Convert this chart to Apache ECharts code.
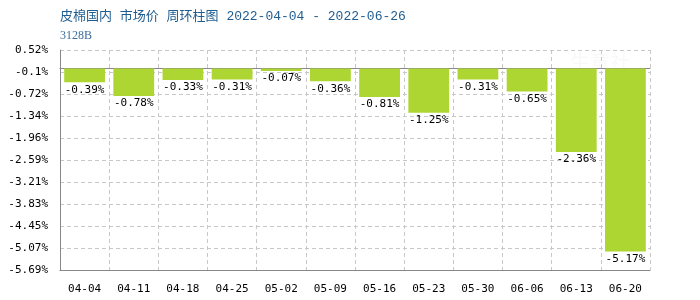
<!DOCTYPE html>
<html><head><meta charset="utf-8">
<script src="https://cdn.jsdelivr.net/npm/echarts@6/dist/echarts.min.js"></script>
<style>html,body{margin:0;padding:0;background:#fff}#c{width:700px;height:300px}</style>
</head><body><div id="c"></div>
<script>
var titleText = '皮棉国内 市场价 周环柱图 2022-04-04 - 2022-06-26';
var subtitleText = '3128B';
var categories = ['04-04','04-11','04-18','04-25','05-02','05-09','05-16','05-23','05-30','06-06','06-13','06-20'];
var values = [-0.39,-0.78,-0.33,-0.31,-0.07,-0.36,-0.81,-1.25,-0.31,-0.65,-2.36,-5.17];
var yTicks = [0.52,-0.1,-0.72,-1.34,-1.96,-2.59,-3.21,-3.83,-4.45,-5.07,-5.69];

var mono = '"DejaVu Sans Mono", "Liberation Mono", monospace';
var chart = echarts.init(document.getElementById('c'), null, {renderer:'canvas'});
chart.setOption({
  animation:false,
  backgroundColor:'#fff',
  title:{
    text:titleText, subtext:subtitleText, left:55, top:5, itemGap:7,
    textStyle:{fontSize:13, fontWeight:'normal', color:'#1f5c8f', fontFamily:'"Liberation Mono","Noto Sans CJK SC", monospace'},
    subtextStyle:{fontSize:12, color:'#3d6d9b', fontFamily:'"Liberation Serif", serif'}
  },
  graphic:[{type:'text', left:570, top:52, z:0, style:{text:'生意社', fontSize:20, fill:'rgba(200,200,200,0.12)', fontFamily:'"Noto Sans CJK SC"'}}],
  grid:{left:60, right:50, top:50, bottom:30, show:false},
  xAxis:[{
    type:'category', data:categories, position:'bottom',
    axisLine:{show:true, onZero:false, lineStyle:{color:'#888', width:1}},
    axisTick:{show:false},
    axisLabel:{color:'#000', fontSize:11, fontFamily:mono, margin:14},
    splitLine:{show:true, lineStyle:{color:'#c8c8c8', type:[4,3]}}
  },{
    type:'category', data:categories, position:'top',
    axisLine:{show:true, onZero:true, lineStyle:{color:'#888', width:1}},
    axisTick:{show:false}, axisLabel:{show:false}, splitLine:{show:false}
  }],
  yAxis:{
    type:'value', min:yTicks[yTicks.length-1], max:yTicks[0],
    axisLine:{show:true, lineStyle:{color:'#888'}},
    axisTick:{show:false, customValues:yTicks},
    axisLabel:{customValues:yTicks, color:'#000', fontSize:11, fontFamily:mono, margin:12,
      formatter:function(v){return parseFloat(v.toFixed(2))+'%';}},
    splitLine:{show:true, lineStyle:{color:'#c8c8c8', type:[4,3]}}
  },
  series:[{
    type:'bar', data:values, barWidth:'83%', xAxisIndex:0,
    itemStyle:{color:'#add633'},
    label:{show:true, position:'bottom', distance:2, color:'#000', fontSize:11, fontFamily:mono,
      formatter:function(p){return p.value.toFixed(2)+'%';}}
  }]
});
</script></body></html>
